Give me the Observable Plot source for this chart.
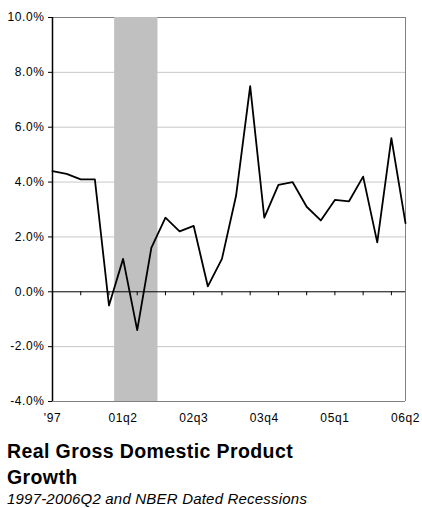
<!DOCTYPE html>
<html>
<head>
<meta charset="utf-8">
<script src="https://cdn.jsdelivr.net/npm/d3@7"></script>
<script src="https://cdn.jsdelivr.net/npm/@observablehq/plot@0.6"></script>
<style>
  body { margin: 0; background: #fff; font-family: "Liberation Sans", Arial, sans-serif; color: #000; }
  #chart svg text { letter-spacing: 0.6px; }
  .title { margin: 9px 0 0 7px; width: 300px; font-size: 19.5px; font-weight: bold; line-height: 25.6px; letter-spacing: 0.4px; }
  .subtitle { margin: 1px 0 0 7px; font-size: 15px; font-style: italic; line-height: 16px; letter-spacing: 0.2px; white-space: nowrap; }
</style>
</head>
<body>
<div id="chart"></div>
<div class="title">Real Gross Domestic Product Growth</div>
<div class="subtitle">1997-2006Q2 and NBER Dated Recessions</div>
<script>
// Annual growth for 1997-2000, then quarterly (annualized) from 2001Q1 to 2006Q2
const periods = ["'97", "'98", "'99", "'00",
  "01q1", "01q2", "01q3", "01q4",
  "02q1", "02q2", "02q3", "02q4",
  "03q1", "03q2", "03q3", "03q4",
  "04q1", "04q2", "04q3", "04q4",
  "05q1", "05q2", "05q3", "05q4",
  "06q1", "06q2"];
const growth = [4.4, 4.3, 4.1, 4.1,
  -0.5, 1.2, -1.4, 1.6,
  2.7, 2.2, 2.4, 0.2,
  1.2, 3.5, 7.5, 2.7,
  3.9, 4.0, 3.1, 2.6,
  3.35, 3.3, 4.2, 1.8,
  5.6, 2.5];
// NBER recession (March-November 2001), in period-index units
const recessions = [{start: 4.4, end: 7.47}];
const yTicks = [-4, -2, 0, 2, 4, 6, 8, 10];
const labeledPeriods = ["'97", "01q2", "02q3", "03q4", "05q1", "06q2"];
const tickStep = 2;

const series = growth.map((value, i) => ({i, period: periods[i], value}));
const labelIdx = labeledPeriods.map(p => periods.indexOf(p));
const last = periods.length - 1;
const tickIdx = d3.range(tickStep, last, tickStep);
const yMin = d3.min(yTicks), yMax = d3.max(yTicks);
const gridLevels = yTicks.filter(v => v !== 0 && v !== yMin && v !== yMax);

const chart = Plot.plot({
  width: 422,
  height: 430,
  marginLeft: 52,
  marginRight: 17,
  marginTop: 17,
  marginBottom: 29,
  style: {fontFamily: "'Liberation Sans', Arial, sans-serif", fontSize: "12px", color: "#000", background: "#fff"},
  x: {domain: [0, last], label: null},
  y: {domain: [yMin, yMax], label: null},
  marks: [
    Plot.ruleY(gridLevels, {stroke: "#c8c8c8", strokeWidth: 1}),
    Plot.ruleY([yMax], {stroke: "#808080", strokeWidth: 1}),
    Plot.rect(recessions, {x1: "start", x2: "end", y1: yMin, y2: yMax, fill: "#c0c0c0"}),
    Plot.ruleY([yMin], {stroke: "#808080", strokeWidth: 1}),
    Plot.ruleX([last], {stroke: "#808080", strokeWidth: 1}),
    Plot.ruleY([0], {stroke: "#000", strokeWidth: 1}),
    Plot.ruleX(tickIdx, {x: d => d, y1: 0, y2: 0, insetBottom: -4, stroke: "#000", strokeWidth: 1}),
    Plot.ruleX([0], {stroke: "#000", strokeWidth: 1.5}),
    Plot.axisY({ticks: yTicks, tickSize: 4, tickPadding: 4, label: null, tickFormat: d => d.toFixed(1) + "%"}),
    Plot.axisX({ticks: labelIdx, tickSize: 0, tickPadding: 12, label: null, tickFormat: i => periods[i]}),
    Plot.line(series, {x: "i", y: "value", stroke: "#000", strokeWidth: 1.8})
  ]
});
document.getElementById("chart").append(chart);
</script>
</body>
</html>
